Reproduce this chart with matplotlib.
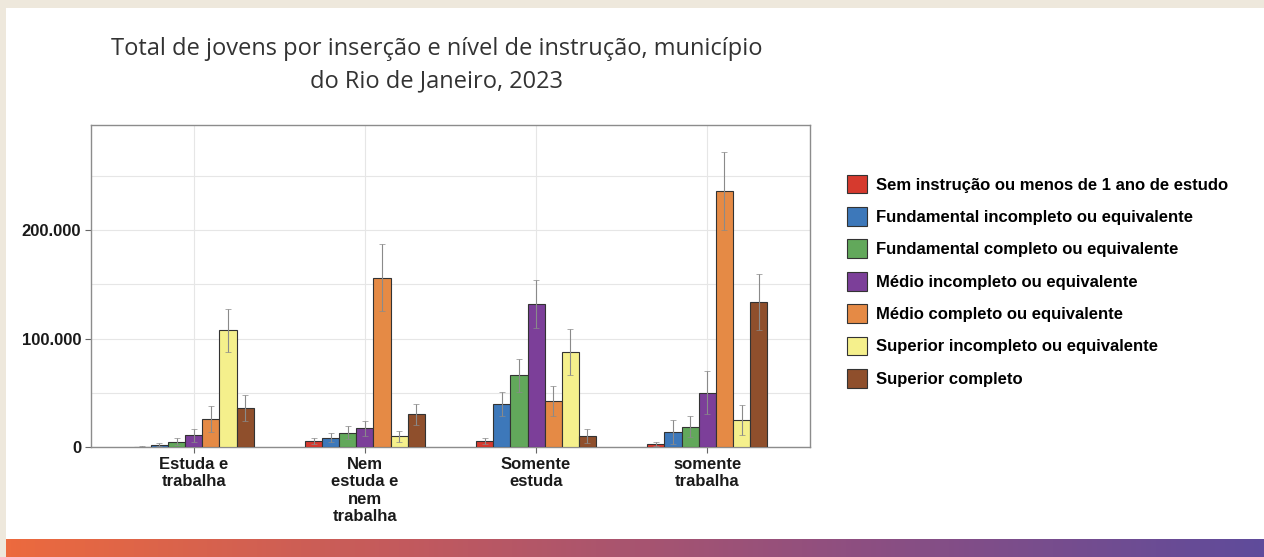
import numpy as np
import matplotlib.pyplot as plt
from matplotlib.patches import Patch, Rectangle
from matplotlib.colors import LinearSegmentedColormap

categorias = ["Estuda e\ntrabalha", "Nem\nestuda e\nnem\ntrabalha", "Somente\nestuda", "somente\ntrabalha"]
niveis = [
    "Sem instrução ou menos de 1 ano de estudo",
    "Fundamental incompleto ou equivalente",
    "Fundamental completo ou equivalente",
    "Médio incompleto ou equivalente",
    "Médio completo ou equivalente",
    "Superior incompleto ou equivalente",
    "Superior completo",
]
cores = ["#d63a2e", "#3d78ba", "#62a85b", "#7c3f99", "#e58a45", "#f5f08c", "#8f4f2c"]

# valores por nivel e categoria
sem_instrucao = [400, 5500, 5500, 2800]
fund_incompleto = [2000, 8600, 39500, 14200]
fund_completo = [5000, 13300, 66000, 18800]
medio_incompleto = [11000, 17300, 132000, 50000]
medio_completo = [25600, 156000, 42600, 236000]
sup_incompleto = [107500, 9900, 87700, 25000]
sup_completo = [35800, 30000, 10500, 133600]

# margem de erro (meia amplitude)
err_sem = [300, 2500, 2500, 1500]
err_fund_inc = [1500, 4000, 11000, 11000]
err_fund_comp = [3000, 6000, 15000, 10000]
err_medio_inc = [6000, 7000, 22000, 20000]
err_medio_comp = [12000, 31000, 14000, 36000]
err_sup_inc = [20000, 5000, 21000, 14000]
err_sup_comp = [12000, 10000, 6500, 26000]

valores = [sem_instrucao, fund_incompleto, fund_completo, medio_incompleto,
           medio_completo, sup_incompleto, sup_completo]
erros = [err_sem, err_fund_inc, err_fund_comp, err_medio_inc,
         err_medio_comp, err_sup_inc, err_sup_comp]

fig = plt.figure(figsize=(12.64, 5.57), dpi=100)
fig.patch.set_facecolor("#eee8dc")
fig.patches.append(Rectangle((6/1264, 18/557), 1 - 6/1264, 1 - 26/557,
                             transform=fig.transFigure, facecolor="white",
                             edgecolor="none", zorder=-5))

# barra em degrade no rodape
gax = fig.add_axes([6/1264, 0, 1 - 6/1264, 18/557])
grad = np.linspace(0, 1, 256).reshape(1, -1)
cmap = LinearSegmentedColormap.from_list("rod", ["#ec6a3e", "#c0595f", "#8f4f80", "#5f4b9b"])
gax.imshow(grad, aspect="auto", cmap=cmap)
gax.axis("off")

ax = fig.add_axes([91/1264, 110/557, 719/1264, 322/557])
ax.set_zorder(2)
x = np.arange(1, 5)
w = 0.1
for j, (vals, errs) in enumerate(zip(valores, erros)):
    pos = x + (j - 3) * w
    ax.bar(pos, vals, width=w, color=cores[j], edgecolor="#333333", linewidth=0.8,
           label=niveis[j], zorder=3)
    ax.errorbar(pos, vals, yerr=errs, fmt="none", ecolor="#8a8a8a", elinewidth=0.8,
                capsize=2.5, capthick=0.5, zorder=4)

ax.set_xlim(0.4, 4.6)
ax.set_ylim(0, 297000)
ax.set_xticks(x)
ax.set_xticklabels(categorias, fontsize=12, fontweight="bold", family="Liberation Sans",
                   linespacing=1.2, color="#1a1a1a")
ax.set_yticks([0, 100000, 200000])
ax.set_yticklabels(["0", "100.000", "200.000"], fontsize=12, fontweight="bold",
                   family="Liberation Sans", color="#1a1a1a")
ax.set_yticks([50000, 150000, 250000], minor=True)
ax.tick_params(axis="y", which="minor", length=0)
ax.tick_params(length=4, color="#666666", pad=3)
ax.grid(True, which="both", color="#e6e6e6", linewidth=0.8, zorder=0)
for s in ax.spines.values():
    s.set_color("#8c8c8c")
    s.set_linewidth(1)

fig.text(437/1264, 1 - 65/557,
         "Total de jovens por inserção e nível de instrução, município\ndo Rio de Janeiro, 2023",
         ha="center", va="center", fontsize=17, family="Open Sans", color="#333333",
         linespacing=1.45)

handles = [Patch(facecolor=c, edgecolor="#333333", linewidth=0.8) for c in cores]
fig.legend(handles, niveis, loc="upper left", bbox_to_anchor=(840/1264, 1 - 168/557),
           frameon=False, prop={"family": "Liberation Sans", "weight": "bold", "size": 12},
           handlelength=1.2, handleheight=1.35, handletextpad=0.55, labelspacing=0.82,
           borderaxespad=0)

fig.savefig("out.png", dpi=100, facecolor=fig.get_facecolor())
